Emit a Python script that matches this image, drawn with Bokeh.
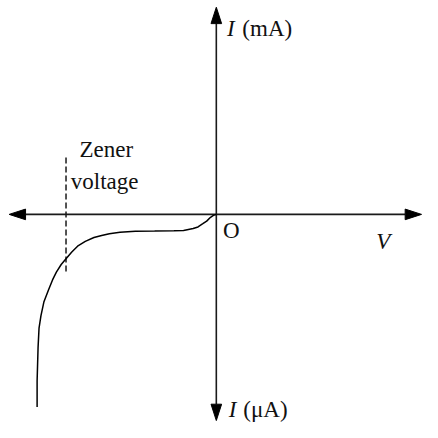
from bokeh.plotting import figure
from bokeh.models import Range1d
from bokeh.core.properties import value
from bokeh.embed import file_html
from bokeh.resources import INLINE

# --- data (schematic units; origin = O) ---
v_axis_ends = [-215, 213]        # horizontal V axis, left/right arrow tips
i_axis_ends = [-214, 215]        # vertical I axis, bottom/top arrow tips

curve_v = [-186, -186, -185, -184, -182, -179, -174, -170, -166, -161, -156,
           -150, -144, -136, -127, -119, -111, -100, -84, -64, -44, -34, -24,
           -19, -14, -10, -6, -3, 0]
curve_i = [-200, -173, -138, -118, -105, -91, -78, -68, -60, -52, -46,
           -39, -33, -28, -24, -22, -20, -18.5, -17.5, -17.3, -17, -16.7, -14.7,
           -13, -9.7, -7, -3, -1, 0]

zener_v = -156
zener_i = [59, -61]

label_regular = ["Zener", "voltage", "(mA)", "(μA)", "O"]
label_regular_x = [-142, -151, 27, 28, 7]
label_regular_y = [67, 34, 193, -203, -17]

label_italic = ["I", "I", "V"]
label_italic_x = [11, 13, 166]
label_italic_y = [193, -203, -28]

HEAD_LEN = 17
HEAD_W = 11

p = figure(width=422, height=422, output_backend="svg", toolbar_location=None,
           x_range=Range1d(-224, 214), y_range=Range1d(-216, 222),
           x_axis_location=None, y_axis_location=None, min_border=0,
           outline_line_color=None, background_fill_color="white",
           border_fill_color="white")
p.grid.visible = False

axis_col = "#1a1a1a"

# axes lines (stop at arrowhead base)
p.segment(x0=[v_axis_ends[0] + HEAD_LEN, 0], y0=[0, i_axis_ends[0] + HEAD_LEN],
          x1=[v_axis_ends[1] - HEAD_LEN, 0], y1=[0, i_axis_ends[1] - HEAD_LEN],
          line_color=axis_col, line_width=1.6)

# arrowheads
tips = [(v_axis_ends[0], 0, -1, 0), (v_axis_ends[1], 0, 1, 0),
        (0, i_axis_ends[0], 0, -1), (0, i_axis_ends[1], 0, 1)]
xs, ys = [], []
for tx, ty, dx, dy in tips:
    bx, by = tx - dx * HEAD_LEN, ty - dy * HEAD_LEN
    px, py = -dy, dx
    xs.append([tx, bx + px * HEAD_W / 2, bx - px * HEAD_W / 2])
    ys.append([ty, by + py * HEAD_W / 2, by - py * HEAD_W / 2])
p.patches(xs, ys, fill_color="black", line_color="black", line_width=1)

# zener dashed line
p.line([zener_v, zener_v], zener_i, line_color="#1a1a1a", line_width=1.5,
       line_dash="6 3")

# characteristic curve
p.line(curve_v, curve_i, line_color="black", line_width=1.5)

p.text(x=label_regular_x, y=label_regular_y, text=label_regular,
       text_font=value("Liberation Serif"), text_font_size="23px",
       text_color="#111111", text_baseline="middle", text_align="left")
p.text(x=label_italic_x, y=label_italic_y, text=label_italic,
       text_font=value("Liberation Serif"), text_font_size="23px",
       text_font_style="italic",
       text_color="#111111", text_baseline="middle", text_align="left")

open("out.html", "w").write(file_html(p, INLINE))
